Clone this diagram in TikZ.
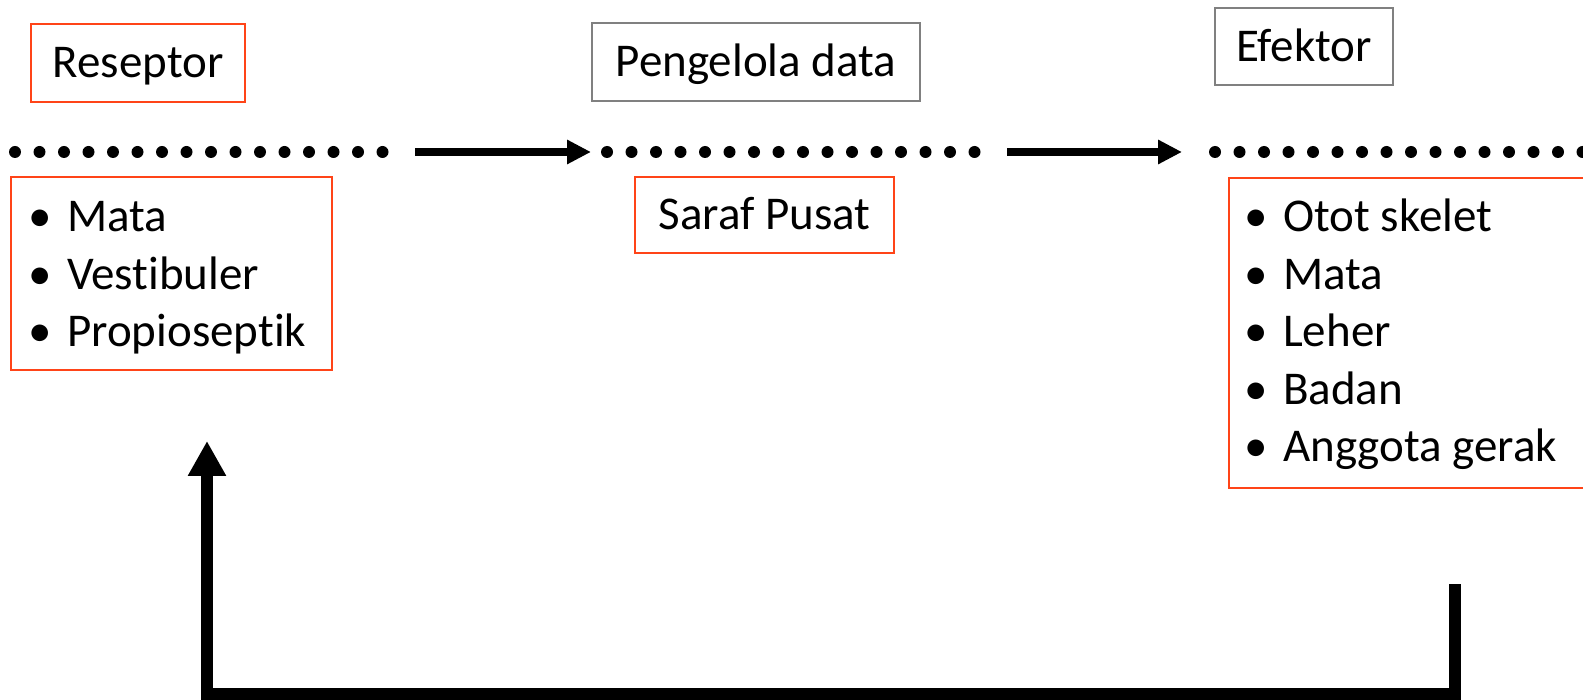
\documentclass[tikz,border=0pt]{standalone}
\usepackage{fontspec}
\setmainfont{Carlito}[Ligatures=NoCommon]
\usepackage{xcolor}
\usetikzlibrary{arrows.meta}

\definecolor{boxred}{RGB}{255,68,24}
\definecolor{boxgray}{RGB}{128,128,128}
\newcommand{\blt}{\llap{\textbullet\hspace{15pt}}}

\begin{document}
\begin{tikzpicture}[x=1pt,y=-1pt,
    every node/.style={font=\fontsize{47}{57.5}\selectfont},
    redbox/.style={draw=boxred,line width=1.8pt,inner sep=0pt,text height=30pt,text depth=0pt},
    graybox/.style={draw=boxgray,line width=1.8pt,inner sep=0pt,text height=30pt,text depth=0pt},
    item/.style={anchor=base west,inner sep=0pt},
    flow/.style={line width=8pt,-{Triangle[length=24pt,width=23pt]}},
    back/.style={line width=12pt,-{Triangle[length=35pt,width=36pt]}}]
    \useasboundingbox (0,0) rectangle (1583,700);
    \clip (0,0) rectangle (1583,700);

    % stage titles
    \node[redbox,minimum width=214pt,minimum height=78pt] (reseptor) at (138,63) {Reseptor};
    \node[graybox,minimum width=328pt,minimum height=78pt] (pengelola) at (756,62) {Pengelola data};
    \node[graybox,minimum width=178pt,minimum height=77pt] (efektor) at (1304,46.5) {Efektor};

    % dotted rows
    \foreach \x in {15,607,1215}
      \foreach \i in {0,...,15}
        \fill (\x+24.5*\i,152) circle (6pt);

    % arrows between the rows
    \coordinate (a1s) at (415,152);
    \coordinate (a1e) at (591,152);
    \coordinate (a2s) at (1007,152);
    \coordinate (a2e) at (1182,152);
    \draw[flow] (a1s) -- (a1e);
    \draw[flow] (a2s) -- (a2e);

    % reseptor list
    \node[redbox,minimum width=321pt,minimum height=193pt] (reslist) at (171.5,273.5) {};
    \foreach \txt [count=\i] in {Mata,Vestibuler,Propioseptik}
      \node[item] (res\i) at (67,174.5+57.5*\i) {\blt\txt};

    % pengelola
    \node[redbox,minimum width=259pt,minimum height=76pt] (saraf) at (764.5,215) {Saraf Pusat};

    % efektor list
    \node[redbox,anchor=north west,minimum width=400pt,minimum height=310pt] (efklist) at (1228,177) {};
    \foreach \txt [count=\i] in {Otot skelet,Mata,Leher,Badan,Anggota gerak}
      \node[item] (efk\i) at (1283,174.5+57.5*\i) {\blt\txt};

    % feedback
    \coordinate (fbstart) at (1455,584);
    \coordinate (fbend) at (207,441);
    \draw[back] (fbstart) -- ++(0,110) -| (fbend);
\end{tikzpicture}
\end{document}
